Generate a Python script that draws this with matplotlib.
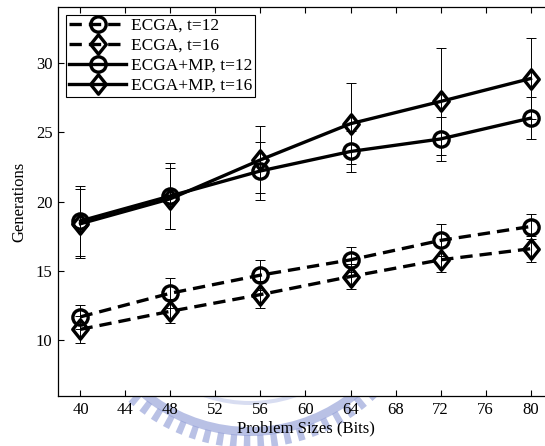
import numpy as np
import matplotlib
matplotlib.use("Agg")
import matplotlib.pyplot as plt
from matplotlib.path import Path
from matplotlib.patches import Wedge

# problem sizes (bits) and mean generations with std-dev error bars
sizes = [40, 48, 56, 64, 72, 80]

ecga_t12 = [11.7, 13.4, 14.7, 15.8, 17.2, 18.2]
ecga_t12_err = [0.85, 1.1, 1.1, 0.9, 1.15, 0.9]

ecga_t16 = [10.8, 12.1, 13.3, 14.6, 15.8, 16.6]
ecga_t16_err = [0.95, 0.85, 0.95, 0.9, 0.9, 0.95]

mp_t12 = [18.6, 20.4, 22.2, 23.6, 24.5, 26.0]
mp_t12_err = [2.5, 2.4, 2.1, 1.5, 1.55, 1.5]

mp_t16 = [18.4, 20.2, 23.0, 25.6, 27.2, 28.85]
mp_t16_err = [2.5, 2.2, 2.4, 2.9, 3.85, 2.9]

labels = ["ECGA, t=12", "ECGA, t=16", "ECGA+MP, t=12", "ECGA+MP, t=16"]

plt.rcParams["font.family"] = ["Liberation Serif", "DejaVu Serif"]
plt.rcParams["font.size"] = 12

# matlab style diamond, a bit taller than wide
diamond = Path([(0, 1), (0.8, 0), (0, -1), (-0.8, 0), (0, 1)],
               [Path.MOVETO, Path.LINETO, Path.LINETO, Path.LINETO, Path.CLOSEPOLY])

fig = plt.figure(figsize=(5.45, 4.46), dpi=100)
ax = fig.add_axes([0.1064, 0.1121, 0.9083, 0.8722])

series = [
    (ecga_t12, ecga_t12_err, "o", 11, (0, (3.7, 2.1))),
    (ecga_t16, ecga_t16_err, diamond, 14, (0, (3.7, 2.1))),
    (mp_t12, mp_t12_err, "o", 11, "-"),
    (mp_t16, mp_t16_err, diamond, 14, "-"),
]

for (vals, err, mk, ms, ls), lab in zip(series, labels):
    ax.errorbar(sizes, vals, yerr=err, fmt="none", ecolor="black",
                elinewidth=0.7, capsize=3.3, capthick=0.7, zorder=2)
    ax.plot(sizes, vals, color="black", linestyle=ls, linewidth=2.4,
            marker=mk, markersize=ms, markerfacecolor="none",
            markeredgecolor="black", markeredgewidth=2.4, label=lab, zorder=3)

ax.set_xlim(38, 82)
ax.set_ylim(6, 34)
ax.set_xticks(np.arange(40, 81, 4))
ax.set_yticks([10, 15, 20, 25, 30])
ax.tick_params(direction="in", top=True, right=True, length=4, width=0.8, pad=4)
for sp in ax.spines.values():
    sp.set_linewidth(0.9)

ax.set_xlabel("Problem Sizes (Bits)", labelpad=2)
ax.set_ylabel("Generations", labelpad=6)

leg = ax.legend(loc="upper left", handlelength=3.3, handletextpad=0.25,
                labelspacing=0.22, borderpad=0.18, borderaxespad=0.45,
                fancybox=False, framealpha=1, edgecolor="black", fontsize=12.5)
leg.get_frame().set_linewidth(0.8)

# faint seal watermark below the axes
wm_color = "#94a0d8"
cx, cy = 2.50, 1.81
fig.add_artist(Wedge((cx, cy), 1.40, 200, 340, width=0.04,
                     transform=fig.dpi_scale_trans, color="#c8cfec",
                     alpha=0.7, zorder=-1, lw=0))
fig.add_artist(Wedge((cx, cy), 1.71, 200, 340, width=0.09,
                     transform=fig.dpi_scale_trans, color=wm_color,
                     alpha=0.65, zorder=-1, lw=0))
for a in np.arange(202, 338, 4.4):
    fig.add_artist(Wedge((cx, cy), 1.83, a, a + 2.1, width=0.13,
                         transform=fig.dpi_scale_trans, color=wm_color,
                         alpha=0.65, zorder=-1, lw=0))

fig.savefig("out.png", dpi=100)
